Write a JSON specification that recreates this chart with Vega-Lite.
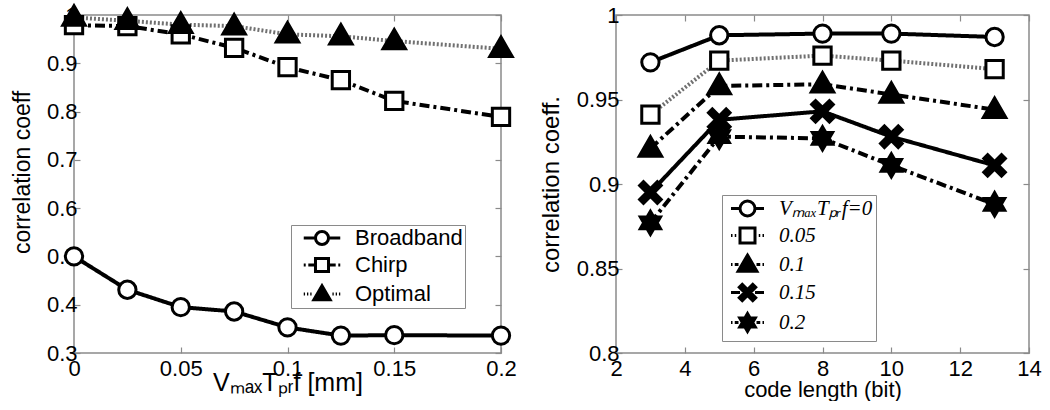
{
  "$schema": "https://vega.github.io/schema/vega-lite/v6.json",
  "background": "white",
  "padding": {"left": 10, "top": -2, "right": 5, "bottom": 0},
  "spacing": 18,
  "resolve": {
    "scale": {"shape": "independent", "fill": "independent", "stroke": "independent"},
    "legend": {"shape": "independent", "fill": "independent", "stroke": "independent"}
  },
  "config": {
    "view": {"stroke": "#8a8a8a", "strokeWidth": 1.5},
    "font": "Liberation Sans",
    "axis": {
      "labelFont": "Liberation Sans", "titleFont": "Liberation Sans",
      "labelColor": "black", "titleColor": "black",
      "labelFontSize": 22, "titleFontWeight": "normal",
      "domain": false, "grid": false,
      "tickColor": "#8a8a8a", "tickSize": -6, "tickWidth": 1.2,
      "labelFlush": false, "labelOverlap": false
    }
  },
  "datasets": {
    "left": [
      {"x": 0, "y": 0.5, "series": "Broadband"},
      {"x": 0.025, "y": 0.431, "series": "Broadband"},
      {"x": 0.05, "y": 0.395, "series": "Broadband"},
      {"x": 0.075, "y": 0.386, "series": "Broadband"},
      {"x": 0.1, "y": 0.353, "series": "Broadband"},
      {"x": 0.125, "y": 0.336, "series": "Broadband"},
      {"x": 0.15, "y": 0.337, "series": "Broadband"},
      {"x": 0.2, "y": 0.336, "series": "Broadband"},
      {"x": 0, "y": 0.979, "series": "Chirp"},
      {"x": 0.025, "y": 0.977, "series": "Chirp"},
      {"x": 0.05, "y": 0.96, "series": "Chirp"},
      {"x": 0.075, "y": 0.932, "series": "Chirp"},
      {"x": 0.1, "y": 0.892, "series": "Chirp"},
      {"x": 0.125, "y": 0.865, "series": "Chirp"},
      {"x": 0.15, "y": 0.822, "series": "Chirp"},
      {"x": 0.2, "y": 0.789, "series": "Chirp"},
      {"x": 0, "y": 0.995, "series": "Optimal"},
      {"x": 0.025, "y": 0.988, "series": "Optimal"},
      {"x": 0.05, "y": 0.98, "series": "Optimal"},
      {"x": 0.075, "y": 0.977, "series": "Optimal"},
      {"x": 0.1, "y": 0.96, "series": "Optimal"},
      {"x": 0.125, "y": 0.956, "series": "Optimal"},
      {"x": 0.15, "y": 0.946, "series": "Optimal"},
      {"x": 0.2, "y": 0.93, "series": "Optimal"}
    ],
    "right": [
      {"bits": 3, "r": 0.972, "v": "0"},
      {"bits": 5, "r": 0.988, "v": "0"},
      {"bits": 8, "r": 0.989, "v": "0"},
      {"bits": 10, "r": 0.989, "v": "0"},
      {"bits": 13, "r": 0.987, "v": "0"},
      {"bits": 3, "r": 0.941, "v": "0.05"},
      {"bits": 5, "r": 0.973, "v": "0.05"},
      {"bits": 8, "r": 0.976, "v": "0.05"},
      {"bits": 10, "r": 0.973, "v": "0.05"},
      {"bits": 13, "r": 0.968, "v": "0.05"},
      {"bits": 3, "r": 0.921, "v": "0.1"},
      {"bits": 5, "r": 0.958, "v": "0.1"},
      {"bits": 8, "r": 0.959, "v": "0.1"},
      {"bits": 10, "r": 0.953, "v": "0.1"},
      {"bits": 13, "r": 0.944, "v": "0.1"},
      {"bits": 3, "r": 0.895, "v": "0.15"},
      {"bits": 5, "r": 0.938, "v": "0.15"},
      {"bits": 8, "r": 0.943, "v": "0.15"},
      {"bits": 10, "r": 0.928, "v": "0.15"},
      {"bits": 13, "r": 0.911, "v": "0.15"},
      {"bits": 3, "r": 0.877, "v": "0.2"},
      {"bits": 5, "r": 0.928, "v": "0.2"},
      {"bits": 8, "r": 0.927, "v": "0.2"},
      {"bits": 10, "r": 0.911, "v": "0.2"},
      {"bits": 13, "r": 0.888, "v": "0.2"}
    ]
  },
  "hconcat": [
    {
      "width": 427,
      "height": 338,
      "data": {"name": "left"},
      "resolve": {"axis": {"x": "independent", "y": "independent"}},
      "layer": [
        {
          "mark": {"type": "line", "strokeWidth": 4},
          "encoding": {
            "x": {"field": "x", "type": "quantitative", "scale": {"domain": [0, 0.2], "nice": false},
              "axis": {"values": [0, 0.05, 0.1, 0.15, 0.2], "format": "~g", "labelPadding": 11,
                "title": "VₘₐₓTₚᵣf [mm]", "titleFontSize": 25, "titlePadding": -9}},
            "y": {"field": "y", "type": "quantitative", "scale": {"domain": [0.3, 1], "nice": false, "zero": false},
              "axis": {"values": [0.3, 0.4, 0.5, 0.6, 0.7, 0.8, 0.9, 1], "format": "~g", "labelPadding": 3,
                "title": "correlation coeff", "titleFontSize": 23, "titlePadding": 12, "titleY": 157}},
            "detail": {"field": "series", "type": "nominal"},
            "strokeDash": {"condition": [
              {"test": "datum.series === 'Chirp'", "value": [10, 4, 3, 4]},
              {"test": "datum.series === 'Optimal'", "value": [2, 2]}], "value": [1, 0]},
            "stroke": {"condition": {"test": "datum.series === 'Optimal'", "value": "#707070"}, "value": "black"}
          }
        },
        {
          "mark": {"type": "point", "filled": true, "stroke": "black", "strokeWidth": 3, "size": 300, "opacity": 1},
          "encoding": {
            "x": {"field": "x", "type": "quantitative", "axis": null},
            "y": {"field": "y", "type": "quantitative", "axis": null},
            "fill": {"condition": {"test": "datum.series === 'Optimal'", "value": "black"}, "value": "white"},
            "shape": {"condition": [
              {"test": "datum.series === 'Chirp'", "value": "square"},
              {"test": "datum.series === 'Optimal'", "value": "M0,-1.35L1.3,0.9H-1.3Z"}], "value": "circle"}
          }
        },
        {
          "mark": {"type": "point", "filled": true, "strokeWidth": 3, "opacity": 0},
          "encoding": {
            "x": {"field": "x", "type": "quantitative", "axis": {"orient": "top", "values": [0, 0.05, 0.1, 0.15, 0.2], "labels": false, "title": null}},
            "y": {"field": "y", "type": "quantitative", "axis": {"orient": "right", "values": [0.3, 0.4, 0.5, 0.6, 0.7, 0.8, 0.9, 1], "labels": false, "title": null}},
            "fill": {"field": "series", "type": "nominal",
              "scale": {"domain": ["Broadband", "Chirp", "Optimal"], "range": ["white", "white", "black"]},
              "legend": {
                "orient": "none", "legendX": 217, "legendY": 210, "title": null,
                "fillColor": "white", "strokeColor": "#8a8a8a", "padding": 2,
                "labelFont": "Liberation Sans", "labelFontSize": 22, "labelColor": "black",
                "symbolSize": 170, "symbolOffset": 18, "labelOffset": 22, "rowPadding": 1,
                "symbolOpacity": 1, "symbolStrokeWidth": 3, "symbolStrokeColor": "black"
              }},
            "stroke": {"field": "series", "type": "nominal",
              "scale": {"domain": ["Broadband", "Chirp", "Optimal"], "range": ["black", "black", "black"]},
              "legend": {
                "orient": "none", "legendX": 217, "legendY": 210, "title": null,
                "fillColor": "white", "strokeColor": "#8a8a8a", "padding": 2,
                "labelFont": "Liberation Sans", "labelFontSize": 22, "labelColor": "black",
                "symbolSize": 170, "symbolOffset": 18, "labelOffset": 22, "rowPadding": 1,
                "symbolOpacity": 1, "symbolStrokeWidth": 3, "symbolStrokeColor": "black"
              }},
            "shape": {"field": "series", "type": "nominal",
              "scale": {"domain": ["Broadband", "Chirp", "Optimal"],
                "range": [
                  "M-2.8,0H-1M1,0H2.8M-1,0A1,1 0 1,1 1,0A1,1 0 1,1 -1,0Z",
                  "M-2.8,0H-2.5M-2.1,0H-1.2M1.2,0H2.1M2.5,0H2.8M-1,-1H1V1H-1Z",
                  "M-2.8,0H-2.6M-2.3,0H-2.1M-1.8,0H-1.6M1.6,0H1.8M2.1,0H2.3M2.6,0H2.8M0,-1.25L1.25,0.9H-1.25Z"]},
              "legend": {
                "orient": "none", "legendX": 217, "legendY": 210, "title": null,
                "fillColor": "white", "strokeColor": "#8a8a8a", "padding": 2,
                "labelFont": "Liberation Sans", "labelFontSize": 22, "labelColor": "black",
                "symbolSize": 170, "symbolOffset": 18, "labelOffset": 22, "rowPadding": 1,
                "symbolOpacity": 1, "symbolStrokeWidth": 3, "symbolStrokeColor": "black"
              }}
          }
        }
      ]
    },
    {
      "width": 413,
      "height": 338,
      "data": {"name": "right"},
      "resolve": {"axis": {"x": "independent", "y": "independent"}},
      "layer": [
        {
          "mark": {"type": "line", "strokeWidth": 4},
          "encoding": {
            "x": {"field": "bits", "type": "quantitative", "scale": {"domain": [2, 14], "nice": false},
              "axis": {"values": [2, 4, 6, 8, 10, 12, 14], "labelPadding": 11,
                "title": "code length (bit)", "titleFontSize": 22, "titlePadding": 0}},
            "y": {"field": "r", "type": "quantitative", "scale": {"domain": [0.8, 1], "nice": false, "zero": false},
              "axis": {"values": [0.8, 0.85, 0.9, 0.95, 1], "format": "~g", "labelPadding": 3,
                "title": "correlation coeff.", "titleFontSize": 24, "titlePadding": 13}},
            "detail": {"field": "v", "type": "nominal"},
            "strokeDash": {"condition": [
              {"test": "datum.v === '0.05'", "value": [2, 2]},
              {"test": "datum.v === '0.1' || datum.v === '0.2'", "value": [10, 4, 3, 4]}], "value": [1, 0]},
            "stroke": {"condition": {"test": "datum.v === '0.05'", "value": "#707070"}, "value": "black"}
          }
        },
        {
          "mark": {"type": "point", "filled": true, "stroke": "black", "strokeWidth": 3, "size": 300, "opacity": 1},
          "encoding": {
            "x": {"field": "bits", "type": "quantitative", "axis": null},
            "y": {"field": "r", "type": "quantitative", "axis": null},
            "fill": {"condition": {"test": "datum.v === '0' || datum.v === '0.05'", "value": "white"}, "value": "black"},
            "shape": {"condition": [
              {"test": "datum.v === '0.05'", "value": "square"},
              {"test": "datum.v === '0.1'", "value": "M0,-1.35L1.3,0.9H-1.3Z"},
              {"test": "datum.v === '0.15'", "value": "M-1.25,-0.8L-0.8,-1.25L0,-0.45L0.8,-1.25L1.25,-0.8L0.45,0L1.25,0.8L0.8,1.25L0,0.45L-0.8,1.25L-1.25,0.8L-0.45,0Z"},
              {"test": "datum.v === '0.2'", "value": "M0,-1.35L0.39,-0.675L1.17,-0.675L0.78,0L1.17,0.675L0.39,0.675L0,1.35L-0.39,0.675L-1.17,0.675L-0.78,0L-1.17,-0.675L-0.39,-0.675Z"}],
              "value": "circle"}
          }
        },
        {
          "mark": {"type": "point", "filled": true, "strokeWidth": 3, "opacity": 0},
          "encoding": {
            "x": {"field": "bits", "type": "quantitative", "axis": {"orient": "top", "values": [2, 4, 6, 8, 10, 12, 14], "labels": false, "title": null}},
            "y": {"field": "r", "type": "quantitative", "axis": {"orient": "right", "values": [0.8, 0.85, 0.9, 0.95, 1], "labels": false, "title": null}},
            "fill": {"field": "v", "type": "nominal",
              "scale": {"domain": ["0", "0.05", "0.1", "0.15", "0.2"], "range": ["white", "white", "black", "black", "black"]},
              "legend": {
                "orient": "none", "legendX": 106, "legendY": 180, "title": null,
                "fillColor": "white", "strokeColor": "#8a8a8a", "padding": 3,
                "labelFont": "Liberation Serif", "labelFontStyle": "italic", "labelFontSize": 21, "labelColor": "black",
                "labelExpr": "datum.label === '0' ? 'VₘₐₓTₚᵣf=0' : datum.label",
                "symbolSize": 225, "symbolOffset": 12, "labelOffset": 21, "rowPadding": 0,
                "symbolOpacity": 1, "symbolStrokeWidth": 3, "symbolStrokeColor": "black"
              }},
            "stroke": {"field": "v", "type": "nominal",
              "scale": {"domain": ["0", "0.05", "0.1", "0.15", "0.2"], "range": ["black", "black", "black", "black", "black"]},
              "legend": {
                "orient": "none", "legendX": 106, "legendY": 180, "title": null,
                "fillColor": "white", "strokeColor": "#8a8a8a", "padding": 3,
                "labelFont": "Liberation Serif", "labelFontStyle": "italic", "labelFontSize": 21, "labelColor": "black",
                "labelExpr": "datum.label === '0' ? 'VₘₐₓTₚᵣf=0' : datum.label",
                "symbolSize": 225, "symbolOffset": 12, "labelOffset": 21, "rowPadding": 0,
                "symbolOpacity": 1, "symbolStrokeWidth": 3, "symbolStrokeColor": "black"
              }},
            "shape": {"field": "v", "type": "nominal",
              "scale": {"domain": ["0", "0.05", "0.1", "0.15", "0.2"],
                "range": [
                  "M-2.2,0H-1M1,0H2.2M-1,0A1,1 0 1,1 1,0A1,1 0 1,1 -1,0Z",
                  "M-2.2,0H-2.0M-1.7,0H-1.5M1.5,0H1.7M2.0,0H2.2M-1,-1H1V1H-1Z",
                  "M-2.2,0H-2.0M-1.7,0H-1.2M1.2,0H1.7M2.0,0H2.2M0,-1.25L1.25,0.9H-1.25Z",
                  "M-2.2,0H-1M1,0H2.2M-1.1,-0.7L-0.7,-1.1L0,-0.4L0.7,-1.1L1.1,-0.7L0.4,0L1.1,0.7L0.7,1.1L0,0.4L-0.7,1.1L-1.1,0.7L-0.4,0Z",
                  "M-2.2,0H-2.0M-1.7,0H-1.2M1.2,0H1.7M2.0,0H2.2M0,-1.2L0.35,-0.6L1.04,-0.6L0.69,0L1.04,0.6L0.35,0.6L0,1.2L-0.35,0.6L-1.04,0.6L-0.69,0L-1.04,-0.6L-0.35,-0.6Z"]},
              "legend": {
                "orient": "none", "legendX": 106, "legendY": 180, "title": null,
                "fillColor": "white", "strokeColor": "#8a8a8a", "padding": 3,
                "labelFont": "Liberation Serif", "labelFontStyle": "italic", "labelFontSize": 21, "labelColor": "black",
                "labelExpr": "datum.label === '0' ? 'VₘₐₓTₚᵣf=0' : datum.label",
                "symbolSize": 225, "symbolOffset": 12, "labelOffset": 21, "rowPadding": 0,
                "symbolOpacity": 1, "symbolStrokeWidth": 3, "symbolStrokeColor": "black"
              }}
          }
        }
      ]
    }
  ]
}
